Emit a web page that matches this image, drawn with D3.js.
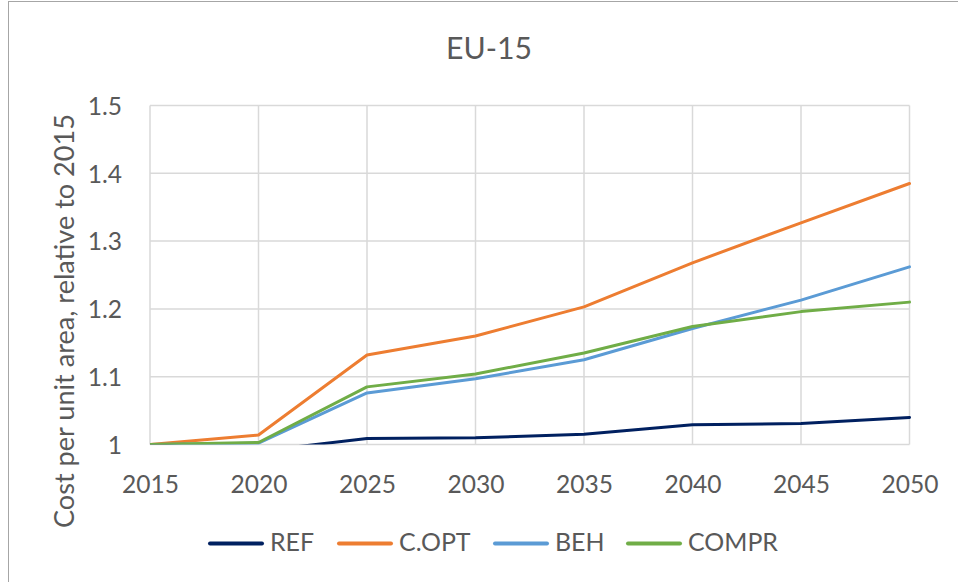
<!DOCTYPE html>
<html><head><meta charset="utf-8">
<script src="https://cdn.jsdelivr.net/npm/d3@7"></script>
<style>
html,body{margin:0;padding:0;background:#fff;}
svg{display:block;}
text{font-family:Lato,"Open Sans",sans-serif;fill:#595959;}
</style></head>
<body>
<script>
const years = [2015, 2020, 2025, 2030, 2035, 2040, 2045, 2050];
const refValues   = [1.000, 0.990, 1.009, 1.010, 1.015, 1.029, 1.031, 1.040];
const coptValues  = [1.000, 1.014, 1.132, 1.160, 1.203, 1.268, 1.327, 1.385];
const behValues   = [1.000, 1.002, 1.076, 1.097, 1.125, 1.171, 1.213, 1.262];
const comprValues = [1.000, 1.003, 1.085, 1.104, 1.135, 1.174, 1.196, 1.210];
const seriesNames = ["REF", "C.OPT", "BEH", "COMPR"];
const seriesColors = ["#002060", "#ED7D31", "#5B9BD5", "#70AD47"];
const yTicks = [1, 1.1, 1.2, 1.3, 1.4, 1.5];
const titleText = "EU-15";
const yTitle = "Cost per unit area, relative to 2015";

const allSeries = [refValues, coptValues, behValues, comprValues];
const W = 958, H = 582;
const svg = d3.select("body").append("svg").attr("width", W).attr("height", H);

svg.append("rect").attr("x", 8.5).attr("y", 1.5).attr("width", W + 20).attr("height", H + 20)
  .attr("fill", "#fff").attr("stroke", "#a6a6a6").attr("stroke-width", 1);

const x = d3.scaleLinear().domain([2015, 2050]).range([150, 909.5]);
const y = d3.scaleLinear().domain([1, 1.5]).range([444.5, 105.5]);

function fit(sel, target) {
  sel.each(function () {
    let fs = parseFloat(this.getAttribute("font-size"));
    const w = this.getComputedTextLength();
    if (w > 0) this.setAttribute("font-size", (fs * target / w).toFixed(2));
  });
}

// grid
const g = svg.append("g");
g.selectAll(".hg").data(yTicks).join("line")
  .attr("x1", x.range()[0]).attr("x2", x.range()[1])
  .attr("y1", d => y(d)).attr("y2", d => y(d))
  .attr("stroke", "#d9d9d9").attr("stroke-width", 1.5);
g.selectAll(".vg").data(years).join("line")
  .attr("x1", d => x(d)).attr("x2", d => x(d))
  .attr("y1", y(1.5)).attr("y2", y(1))
  .attr("stroke", "#d9d9d9").attr("stroke-width", 1.5);

// y tick labels via axis
const yAxis = svg.append("g").attr("transform", `translate(${x.range()[0]},0)`)
  .call(d3.axisLeft(y).tickValues(yTicks).tickFormat(d => d3.format("")(+d.toFixed(1))).tickSize(0).tickPadding(28));
yAxis.select(".domain").remove();
yAxis.selectAll("text").attr("font-size", 24).attr("fill", "#595959")
  .style("font-family", "Lato").attr("dy", "0.36em");

const xAxis = svg.append("g").attr("transform", `translate(0,${y(1)})`)
  .call(d3.axisBottom(x).tickValues(years).tickFormat(d3.format("d")).tickSize(0).tickPadding(0));
xAxis.select(".domain").remove();
xAxis.selectAll("text").attr("font-size", 24).attr("fill", "#595959")
  .style("font-family", "Lato").attr("dy", null).attr("y", 48);
fit(xAxis.selectAll("text").filter((d, i) => i === 0), 57);
const xfs = xAxis.select("text").attr("font-size");
xAxis.selectAll("text").attr("font-size", xfs);
yAxis.selectAll("text").attr("font-size", xfs);

// clip
svg.append("clipPath").attr("id", "plotclip").append("rect")
  .attr("x", x.range()[0]).attr("y", y(1.5) - 5)
  .attr("width", x.range()[1] - x.range()[0] + 5).attr("height", y(1) - y(1.5) + 5);

const line = d3.line().x((d, i) => x(years[i])).y(d => y(d));
const lines = svg.append("g").attr("clip-path", "url(#plotclip)");
allSeries.forEach((vals, k) => {
  lines.append("path").datum(vals).attr("d", line)
    .attr("fill", "none").attr("stroke", seriesColors[k]).attr("stroke-width", 3)
    .attr("stroke-linejoin", "round").attr("stroke-linecap", "round");
});

// title
const t = svg.append("text").attr("x", 489).attr("y", 59).attr("text-anchor", "middle")
  .attr("font-size", 28).text(titleText);
fit(t, 86);

// y title
const yt = svg.append("text").attr("transform", "translate(74,321) rotate(-90)")
  .attr("text-anchor", "middle").attr("font-size", 26).text(yTitle);
fit(yt, 414);

// legend
const legX = [209, 338, 494, 627];
const legTextW = [40, 68, 47, 90];
const leg = svg.append("g");
seriesNames.forEach((name, k) => {
  leg.append("line").attr("x1", legX[k] + 1).attr("x2", legX[k] + 53)
    .attr("y1", 543.5).attr("y2", 543.5)
    .attr("stroke", seriesColors[k]).attr("stroke-width", 4).attr("stroke-linecap", "round");
  const tt = leg.append("text").attr("x", legX[k] + 61).attr("y", 551)
    .attr("font-size", 24).text(name);
});
// common legend font size fitted on longest label
const lt = leg.selectAll("text");
const probe = lt.filter((d, i) => i === 3);
fit(probe, 90);
lt.attr("font-size", probe.attr("font-size"));
</script>
</body></html>
